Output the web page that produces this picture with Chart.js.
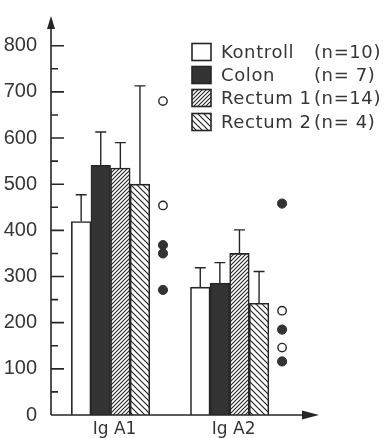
<!DOCTYPE html>
<html>
<head>
<meta charset="utf-8">
<script src="https://cdn.jsdelivr.net/npm/chart.js@4.4.1/dist/chart.umd.min.js"></script>
<style>
  html, body { margin: 0; padding: 0; background: #ffffff; }
  canvas { display: block; }
</style>
</head>
<body>
<canvas id="chart" width="384" height="438"></canvas>
<script>
// Immunoglobulin subclasses, mean values with standard deviation
const groups = ['Ig A1', 'Ig A2'];
const seriesNames = ['Kontroll', 'Colon', 'Rectum 1', 'Rectum 2'];
const seriesN = ['(n=10)', '(n= 7)', '(n=14)', '(n= 4)'];

const kontroll = [419, 277];
const kontrollSd = [58, 42];
const colon = [541, 286];
const colonSd = [72, 44];
const rectum1 = [535, 350];
const rectum1Sd = [55, 51];
const rectum2 = [500, 242];
const rectum2Sd = [213, 69];

// single values plotted beside each group
const openValues = [[680, 454], [226, 146]];
const filledValues = [[368, 350, 271], [458, 185, 116]];

const yTickValues = [0, 100, 200, 300, 400, 500, 600, 700, 800];

const INK = '#262626';
const TEXT = '#363636';
const GROUP_STEP = 2;      // groups sit at x = 1, 3 on the hidden linear axis
const DOT_SHIFT = 0.88;    // single values sit to the right of the bars

const canvas = document.getElementById('chart');
const ctx = canvas.getContext('2d');

function hatch(step, rising, lw) {
  const tile = document.createElement('canvas');
  tile.width = step; tile.height = step;
  const g = tile.getContext('2d');
  g.fillStyle = '#ffffff';
  g.fillRect(0, 0, step, step);
  g.strokeStyle = INK;
  g.lineWidth = lw;
  g.beginPath();
  if (rising) {
    g.moveTo(-1, step + 1); g.lineTo(step + 1, -1);
    g.moveTo(-1, 1); g.lineTo(1, -1);
    g.moveTo(step - 1, step + 1); g.lineTo(step + 1, step - 1);
  } else {
    g.moveTo(-1, -1); g.lineTo(step + 1, step + 1);
    g.moveTo(step - 1, -1); g.lineTo(step + 1, 1);
    g.moveTo(-1, step - 1); g.lineTo(1, step + 1);
  }
  g.stroke();
  return ctx.createPattern(tile, 'repeat');
}

const groupPos = i => 1 + GROUP_STEP * i;
const toXY = arr => arr.map((v, i) => ({ x: groupPos(i), y: v }));
const dotsXY = lists => lists.flatMap((vals, i) => vals.map(v => ({ x: groupPos(i) + DOT_SHIFT, y: v })));

const fills = ['#ffffff', '#333333', hatch(4, true, 1.1), hatch(6, false, 1.2)];
const means = [kontroll, colon, rectum1, rectum2];
const sds = [kontrollSd, colonSd, rectum1Sd, rectum2Sd];

const barSets = seriesNames.map((name, k) => ({
  type: 'bar',
  label: name,
  data: toXY(means[k]),
  sd: sds[k],
  backgroundColor: fills[k],
  borderColor: INK,
  borderWidth: 1.6,
  borderSkipped: 'bottom',
  barThickness: 19.6
}));

const pointSets = [
  {
    type: 'scatter',
    label: 'einzeln offen',
    data: dotsXY(openValues),
    pointRadius: 4.2,
    pointBackgroundColor: '#ffffff',
    pointBorderColor: INK,
    pointBorderWidth: 1.4
  },
  {
    type: 'scatter',
    label: 'einzeln gefüllt',
    data: dotsXY(filledValues),
    pointRadius: 4.6,
    pointBackgroundColor: '#333333',
    pointBorderColor: '#333333',
    pointBorderWidth: 1
  }
];

// error whiskers above each bar
const whiskers = {
  id: 'whiskers',
  afterDatasetsDraw(chart) {
    const y = chart.scales.y;
    const c = chart.ctx;
    c.save();
    c.strokeStyle = INK;
    c.lineWidth = 1.4;
    chart.data.datasets.forEach((ds, di) => {
      if (!ds.sd) return;
      const meta = chart.getDatasetMeta(di);
      meta.data.forEach((bar, i) => {
        const top = y.getPixelForValue(ds.data[i].y + ds.sd[i]);
        c.beginPath();
        c.moveTo(bar.x, bar.y);
        c.lineTo(bar.x, top);
        c.moveTo(bar.x - 5.5, top);
        c.lineTo(bar.x + 5.5, top);
        c.stroke();
      });
    });
    c.restore();
  }
};

// axis lines with arrow heads and inward tick marks
const axes = {
  id: 'axes',
  afterDatasetsDraw(chart) {
    const { left, right, top, bottom } = chart.chartArea;
    const y = chart.scales.y;
    const c = chart.ctx;
    c.save();
    c.strokeStyle = INK;
    c.fillStyle = INK;
    c.lineWidth = 1.6;
    c.beginPath();
    c.moveTo(left, bottom);
    c.lineTo(left, top + 4);
    c.moveTo(left, bottom);
    c.lineTo(right - 6, bottom);
    yTickValues.forEach(v => {
      const py = y.getPixelForValue(v);
      if (v > 0) { c.moveTo(left, py); c.lineTo(left + 13, py); }
      const pm = y.getPixelForValue(v + 50);
      if (v + 50 < 800) { c.moveTo(left, pm); c.lineTo(left + 7, pm); }
    });
    c.stroke();
    // arrow heads
    c.beginPath();
    c.moveTo(left, top - 2);
    c.lineTo(left - 4, top + 11);
    c.lineTo(left + 4, top + 11);
    c.closePath();
    c.fill();
    c.beginPath();
    c.moveTo(right, bottom);
    c.lineTo(right - 17, bottom - 4.5);
    c.lineTo(right - 17, bottom + 4.5);
    c.closePath();
    c.fill();
    c.restore();
  }
};

// key with pattern swatches and group sizes
const key = {
  id: 'key',
  afterDraw(chart) {
    const c = chart.ctx;
    c.save();
    c.font = '18px "DejaVu Sans"';
    c.letterSpacing = '0.6px';
    c.textBaseline = 'middle';
    c.fillStyle = TEXT;
    const rowY = [52, 75, 98, 122];
    barSets.forEach((ds, k) => {
      const cy = rowY[k];
      c.fillStyle = ds.backgroundColor;
      c.fillRect(192, cy - 8.5, 19, 17);
      c.strokeStyle = INK;
      c.lineWidth = 1.6;
      c.strokeRect(192, cy - 8.5, 19, 17);
      c.fillStyle = TEXT;
      c.textAlign = 'left';
      c.fillText(seriesNames[k], 221, cy + 1);
      c.fillText(seriesN[k], 314, cy + 1);
    });
    c.restore();
  }
};

new Chart(canvas, {
  type: 'bar',
  data: { datasets: [...barSets, ...pointSets] },
  options: {
    responsive: false,
    devicePixelRatio: 1,
    animation: false,
    layout: { padding: { top: 14, right: 65, left: 0, bottom: 0 } },
    plugins: { legend: { display: false }, tooltip: { enabled: false } },
    scales: {
      x: {
        type: 'linear',
        min: 0,
        max: 4.5,
        offset: false,
        grid: { display: false },
        border: { display: false },
        afterBuildTicks: s => { s.ticks = groups.map((g, i) => ({ value: groupPos(i) })); },
        afterFit: s => { s.height = 23; },
        ticks: {
          autoSkip: false,
          maxRotation: 0,
          padding: -4,
          labelOffset: 4,
          color: TEXT,
          font: { family: 'DejaVu Sans', size: 17 },
          callback: v => groups[(v - 1) / GROUP_STEP]
        }
      },
      y: {
        type: 'linear',
        min: 0,
        max: 860,
        grid: { display: false },
        border: { display: false },
        afterBuildTicks: s => { s.ticks = yTickValues.map(v => ({ value: v })); },
        afterFit: s => { s.width = 51; },
        ticks: {
          padding: 6,
          color: TEXT,
          font: { family: 'Liberation Sans', size: 20 }
        }
      }
    }
  },
  plugins: [whiskers, axes, key]
});
</script>
</body>
</html>
